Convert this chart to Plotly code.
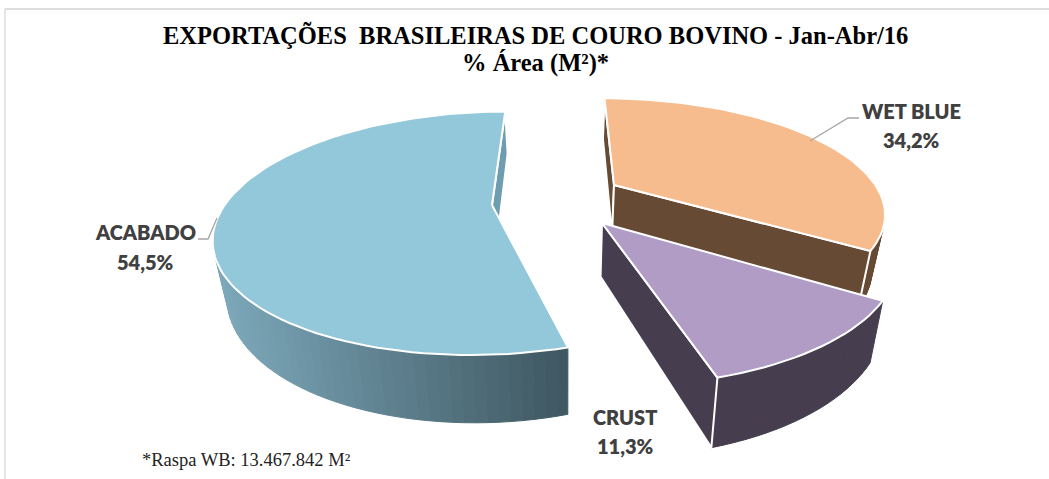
import math
import plotly.graph_objects as go

# ---- data ----
categories = ["WET BLUE", "CRUST", "ACABADO"]
shares = [34.2, 11.3, 54.5]
share_labels = ["34,2%", "11,3%", "54,5%"]
title_lines = ["EXPORTAÇÕES  BRASILEIRAS DE COURO BOVINO - Jan-Abr/16", "% Área (M²)*"]
footnote = "*Raspa WB: 13.467.842 M²"

# ---- styles / projection parameters (pixels) ----
W, H = 1049, 479
TOP_COL = ["#F6BC8D", "#B19CC5", "#92C8D9"]
SIDE_COL = ["#664A33", "#463E4E", None]
CUT_COL = ["#664A33", "#463E4E", "#6E9DB0"]
APEX = [(614, 185), (602, 223), (492, 205)]  # exploded apex of each slice
HORIZON, CX = -290.0, 562.0                  # vanishing line of the pie plane
RA, RB = [0.55, 0.555, 0.54], 0.47           # radii in the projective plane
DEPTH, SQUEEZE, CX_B = 0.105, 0.04, 566.0    # extrusion of the pie
GRAD_L, GRAD_R = (124, 168, 186), (62, 86, 96)


def to_plane(px, py):
    Y = py - HORIZON
    return (px - CX) / Y, 1000.0 / Y


def from_plane(a, b):
    Y = 1000.0 / b
    return CX + a * Y, HORIZON + Y


def lower(p):
    x, y = p
    return CX_B + (x - CX_B) * (1 - SQUEEZE), y + DEPTH * (y - HORIZON)


def area(pts):
    s = 0.0
    for i in range(len(pts)):
        x0, y0 = pts[i]
        x1, y1 = pts[(i + 1) % len(pts)]
        s += x0 * y1 - x1 * y0
    return s


def poly(fig, pts, fill, line="rgba(0,0,0,0)", width=0):
    xs = [p[0] for p in pts] + [pts[0][0]]
    ys = [p[1] for p in pts] + [pts[0][1]]
    fig.add_trace(go.Scatter(x=xs, y=ys, mode="lines", fill="toself", fillcolor=fill,
                             line=dict(color=line, width=width), hoverinfo="skip",
                             showlegend=False))


def grad(x):
    t = min(1.0, max(0.0, (x - 217) / (569 - 217)))
    c = [round(GRAD_L[i] + (GRAD_R[i] - GRAD_L[i]) * t) for i in range(3)]
    return f"rgb({c[0]},{c[1]},{c[2]})"


fig = go.Figure()
total = sum(shares)
start = 0.0
for i, v in enumerate(shares):
    sweep = 360.0 * v / total
    a0, b0 = to_plane(*APEX[i])
    n = max(8, int(sweep / 2))
    arc = []
    for k in range(n + 1):
        th = math.radians(start + sweep * k / n)
        arc.append(from_plane(a0 + RA[i] * math.sin(th), b0 + RB * math.cos(th)))
    apex = APEX[i]
    # curved outer wall
    for p, q in zip(arc[:-1], arc[1:]):
        quad = [p, q, lower(q), lower(p)]
        if area(quad) < 0:
            col = SIDE_COL[i] or grad((p[0] + q[0]) / 2)
            poly(fig, quad, col, col, 1)
    # flat cut faces
    for p, q in ((apex, arc[0]), (arc[-1], apex)):
        quad = [p, q, lower(q), lower(p)]
        if area(quad) < 0:
            poly(fig, quad, CUT_COL[i], "white", 2)
    # top face
    poly(fig, [apex] + arc, TOP_COL[i], "white", 2)
    start += sweep

ann = []
LABEL_POS = [(911, 111, 140), (625, 417, 446), (145, 232, 262)]
for c, s, (x, y0, y1) in zip(categories, share_labels, LABEL_POS):
    for txt, y in ((c, y0), (s, y1)):
        ann.append(dict(x=x, y=y, text=txt, showarrow=False, xanchor="center", yanchor="middle",
                        font=dict(family="Lato", size=20, color="#404040", weight=800)))
for txt, y in zip(title_lines, (35, 63)):
    ann.append(dict(x=535, y=y, text=txt, showarrow=False,
                    font=dict(family="Liberation Serif", size=24.5, color="black", weight="bold")))
ann.append(dict(x=140, y=460, text=footnote, showarrow=False, xanchor="left",
                font=dict(family="Liberation Serif", size=18.5, color="#222222")))

shapes = [
    dict(type="path", path="M810,141 L848,118 L859,118", line=dict(color="#A6A6A6", width=1.3)),
    dict(type="path", path="M217,218 L208,239 L198,239", line=dict(color="#A6A6A6", width=1.3)),
    dict(type="line", x0=5, x1=W, y0=9, y1=9, line=dict(color="#DDDDDD", width=2)),
    dict(type="line", x0=5, x1=5, y0=9, y1=H, line=dict(color="#DDDDDD", width=1.5)),
]

fig.update_layout(
    width=W, height=H, margin=dict(l=0, r=0, t=0, b=0),
    paper_bgcolor="white", plot_bgcolor="white", showlegend=False,
    xaxis=dict(range=[0, W], visible=False, fixedrange=True),
    yaxis=dict(range=[H, 0], visible=False, fixedrange=True),
    annotations=ann, shapes=shapes,
)
fig.write_html("out.html", post_script="document.body.style.margin='0';document.body.style.overflow='hidden';",
               config=dict(displayModeBar=False))
